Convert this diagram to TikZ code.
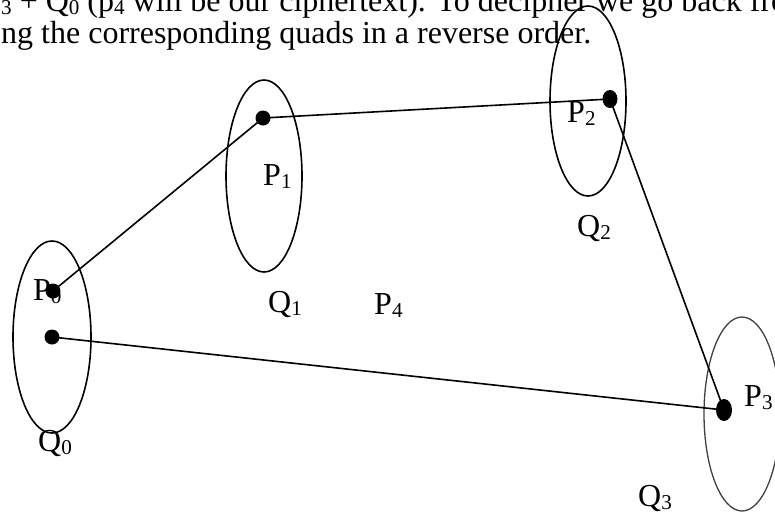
\documentclass[tikz,border=0pt]{standalone}
\usepackage{fontspec}
\setmainfont{Liberation Serif}
\usepackage{graphicx}
\usetikzlibrary{shapes.geometric}
\newcommand\mysub[1]{\raisebox{-0.1em}{\scalebox{0.66}{#1}}}
\begin{document}
\begin{tikzpicture}[x=1pt,y=-1pt,
  txt/.style={anchor=base west,inner sep=0pt,font=\fontsize{32}{32}\selectfont},
  ring/.style={draw=black,line width=1.6pt},
  dot/.style={fill=black,ellipse,inner sep=0pt,minimum width=15pt,minimum height=15pt},
  link/.style={draw=black,line width=1.6pt}]
\useasboundingbox (0,0) rectangle (775,515);
\clip (0,0) rectangle (775,515);
% text
\node[txt] (t1) at (-15,11) {p\mysub{3} + Q\mysub{0} (p\mysub{4} will be our ciphertext). To decipher we go back from};
\node[txt] (t2) at (1,43) {ng the corresponding quads in a reverse order.};
% ellipses
\draw[ring] (52,337) ellipse [x radius=39, y radius=96];
\draw[ring] (264,176) ellipse [x radius=38, y radius=96];
\draw[ring] (588,101) ellipse [x radius=38, y radius=95];
\draw[ring,draw=black!75,line width=1.3pt] (742,414) ellipse [x radius=38, y radius=97];
% dots
\node[dot] (p0a) at (53,291) {};
\node[dot] (p0b) at (52,337) {};
\node[dot] (p1) at (263,118) {};
\node[dot,minimum height=18pt] (p2) at (610,99) {};
\node[dot,minimum width=16pt,minimum height=22pt] (p3) at (724,410) {};
% links
\draw[link] (p0a.center) -- (p1.center);
\draw[link] (p1.center) -- (p2.center);
\draw[link] (p2.center) -- (p3.center);
\draw[link] (p0b.center) -- (p3.center);
% labels
\node[txt] (lp0) at (33,300) {P\mysub{0}};
\node[txt] (lp1) at (263,185) {P\mysub{1}};
\node[txt] (lp2) at (567,122) {P\mysub{2}};
\node[txt] (lp3) at (744,406) {P\mysub{3}};
\node[txt] (lp4) at (374,314) {P\mysub{4}};
\node[txt] (lq0) at (38,451) {Q\mysub{0}};
\node[txt] (lq1) at (268,312) {Q\mysub{1}};
\node[txt] (lq2) at (577,236) {Q\mysub{2}};
\node[txt] (lq3) at (638,506) {Q\mysub{3}};
\end{tikzpicture}
\end{document}
